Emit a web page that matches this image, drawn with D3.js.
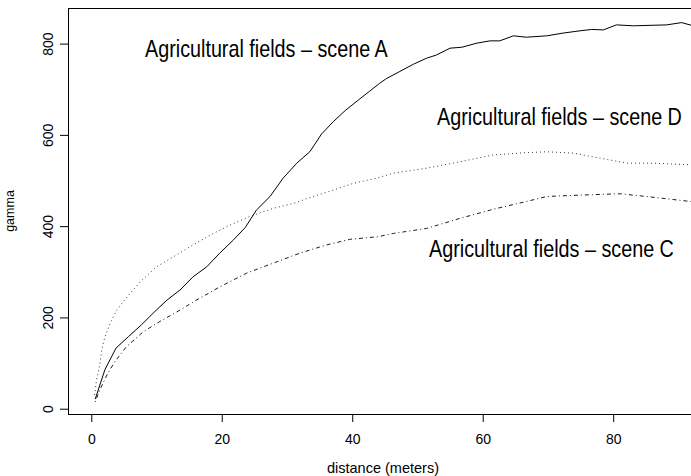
<!DOCTYPE html>
<html><head><meta charset="utf-8">
<script src="https://cdn.jsdelivr.net/npm/d3@7"></script>
<style>
html,body{margin:0;padding:0;background:#fff;}
svg{display:block;}
</style></head>
<body>
<script>
// ---- data ----
const sceneA_x = [0.6, 2.1, 3.8, 5.7, 7.7, 9.6, 11.6, 13.6, 15.6, 17.7, 19.7, 21.8, 23.6, 25.3, 27.4, 29.4, 31.5, 33.5, 35.3, 37.1, 38.9, 40.9, 42.6, 44.2, 45.3, 47.3, 49.4, 51.4, 52.9, 55.0, 56.8, 59.1, 61.1, 62.6, 64.7, 66.7, 69.8, 72.3, 74.9, 76.7, 78.5, 80.5, 83.1, 88.2, 90.5, 92.5];
const sceneA_y = [21, 86, 133, 158, 184, 211, 238, 260, 289, 311, 341, 370, 397, 435, 465, 505, 538, 563, 602, 629, 653, 676, 695, 713, 724, 739, 755, 768, 775, 790, 792, 801, 806, 806, 817, 814, 817, 823, 828, 831, 830, 841, 839, 841, 846, 838];

const sceneD_x = [0.5, 0.8, 1.3, 1.6, 2.1, 2.9, 3.9, 5.2, 7.5, 10.0, 12.6, 15.6, 18.7, 21.8, 24.8, 27.9, 31.0, 34.0, 37.1, 40.2, 43.7, 46.3, 51.4, 56.5, 61.6, 66.7, 69.8, 73.9, 78.0, 82.1, 86.1, 92.5];
const sceneD_y = [30, 63, 96, 129, 158, 187, 216, 240, 278, 311, 333, 359, 384, 406, 424, 439, 450, 465, 479, 494, 505, 516, 527, 541, 556, 561, 563, 560, 549, 538, 538, 534];

const sceneC_x = [0.6, 1.3, 2.4, 3.6, 5.4, 8.0, 10.5, 13.1, 16.0, 19.7, 23.8, 27.9, 32.0, 36.1, 39.6, 44.0, 46.3, 51.4, 56.5, 61.6, 66.7, 69.8, 74.9, 81.0, 85.1, 92.5];
const sceneC_y = [15, 41, 74, 103, 136, 169, 191, 212, 237, 267, 297, 319, 341, 359, 371, 377, 384, 395, 417, 437, 454, 465, 468, 471, 465, 453];

const xTicks = [0, 20, 40, 60, 80];
const yTicks = [0, 200, 400, 600, 800];
const xLabel = "distance (meters)";
const yLabel = "gamma";
const labelA = "Agricultural fields \u2013 scene A";
const labelD = "Agricultural fields \u2013 scene D";
const labelC = "Agricultural fields \u2013 scene C";

// ---- layout ----
const W = 691, H = 476;
const L = 68, R = 698, T = 8, B = 414;

const svg = d3.select("body").append("svg").attr("width", W).attr("height", H);

const x = d3.scaleLinear().domain([-3.57, 93.0]).range([L, R]);
const y = d3.scaleLinear().domain([-11.6, 878]).range([B, T]);

svg.append("defs").append("clipPath").attr("id", "clip")
  .append("rect").attr("x", L).attr("y", T).attr("width", R - L).attr("height", B - T);

const font = "'Liberation Sans', Arial, Helvetica, sans-serif";

// axes
const xAxis = d3.axisBottom(x).tickValues(xTicks).tickSize(8).tickPadding(10).tickFormat(d3.format("d"));
const gx = svg.append("g").attr("transform", `translate(0,${B})`).call(xAxis);
gx.select(".domain").remove();
gx.selectAll(".tick line").attr("stroke", "#000").attr("stroke-width", 1);
gx.selectAll(".tick text").attr("font-family", font).attr("font-size", 14).attr("fill", "#000")
  .attr("dy", null).attr("y", 30);

const yAxis = d3.axisLeft(y).tickValues(yTicks).tickSize(8).tickFormat(d3.format("d"));
const gy = svg.append("g").attr("transform", `translate(${L},0)`).call(yAxis);
gy.select(".domain").remove();
gy.selectAll(".tick line").attr("stroke", "#000").attr("stroke-width", 1);
gy.selectAll(".tick text").attr("font-family", font).attr("font-size", 14).attr("fill", "#000")
  .attr("x", null).attr("dy", null)
  .attr("text-anchor", "middle")
  .attr("transform", "translate(-15.5,0) rotate(-90)");

// box
svg.append("rect").attr("x", L + 0.5).attr("y", T + 0.5).attr("width", R - L).attr("height", B - T)
  .attr("fill", "none").attr("stroke", "#000").attr("stroke-width", 1);

// axis titles
svg.append("text").attr("x", (L + R) / 2).attr("y", 473).attr("text-anchor", "middle")
  .attr("font-family", font).attr("font-size", 14.5).text(xLabel);
svg.append("text").attr("transform", `translate(14,${(T + B) / 2}) rotate(-90)`).attr("text-anchor", "middle")
  .attr("font-family", font).attr("font-size", 12.5).text(yLabel);

// lines
const line = d3.line().x(d => x(d[0])).y(d => y(d[1]));
const series = [
  {xs: sceneA_x, ys: sceneA_y, dash: null, color: "#000", w: 1},
  {xs: sceneD_x, ys: sceneD_y, dash: "1,3", color: "#222", w: 0.9},
  {xs: sceneC_x, ys: sceneC_y, dash: "1,3,4,3", color: "#111", w: 0.95}
];
const gl = svg.append("g").attr("clip-path", "url(#clip)");
series.forEach(s => {
  gl.append("path").datum(d3.zip(s.xs, s.ys)).attr("d", line)
    .attr("fill", "none").attr("stroke", s.color).attr("stroke-width", s.w)
    .attr("stroke-dasharray", s.dash);
});

// annotations (condensed Helvetica look: horizontal squeeze)
const ann = [
  {t: labelA, x0: 145, by: 57},
  {t: labelD, x0: 437, by: 125},
  {t: labelC, x0: 429, by: 257}
];
ann.forEach(a => {
  svg.append("text")
    .attr("transform", `translate(${a.x0},${a.by}) scale(0.824,1)`)
    .attr("text-anchor", "start")
    .attr("font-family", font).attr("font-size", 24).attr("fill", "#000")
    .text(a.t);
});
</script>
</body></html>
